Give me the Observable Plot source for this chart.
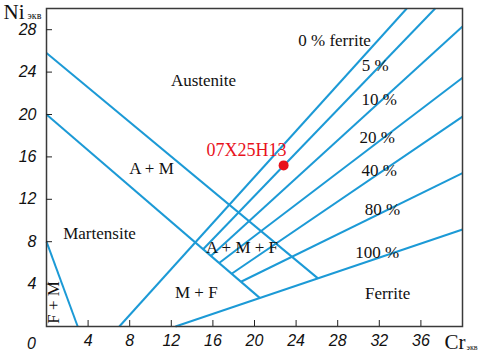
<!DOCTYPE html>
<html><head><meta charset="utf-8">
<script src="https://cdn.jsdelivr.net/npm/d3@7"></script>
<script src="https://cdn.jsdelivr.net/npm/@observablehq/plot@0.6"></script>
<style>body{margin:0;background:#fff}</style>
</head><body><div id="chart"></div>
<script>
// Schaeffler diagram boundary / iso-ferrite lines (Cr_eq, Ni_eq end points)
const lineNames = ["F+M", "M / A+M", "A+M / A", "0 %", "5 %", "10 %", "20 %", "40 %", "80 %", "100 %"];
const lineCr1 = [0, 0, 0, 7, 15.06, 15.8, 16.6, 17.8, 18.7, 12.4];
const lineNi1 = [8, 20, 25.8, 0, 7.29, 6.66, 5.99, 4.98, 4.22, 0];
const lineCr2 = [3, 20.5, 26.1, 34.64, 37.37, 40, 40, 40, 40, 40];
const lineNi2 = [0, 2.7, 4.54, 30, 30, 28.3, 23.46, 19.8, 14.46, 9.15];

// region / iso-line labels
const labelText = ["Austenite", "A + M", "Martensite", "A + M + F", "M + F", "Ferrite",
  "0 % ferrite", "5 %", "10 %", "20 %", "40 %", "80 %", "100 %"];
const labelCr = [15.1, 10.1, 5.1, 18.8, 14.4, 32.8, 27.7, 31.6, 32.0, 31.8, 32.0, 32.3, 31.8];
const labelNi = [23.2, 14.9, 8.77, 7.45, 3.2, 3.1, 27.0, 24.6, 21.4, 17.8, 14.7, 11.0, 7.0];

// steel grade point
const steelName = ["07X25H13"];
const steelCr = [22.8];
const steelNi = [15.2];

const xTicks = [4, 8, 12, 16, 20, 24, 28, 32, 36];
const yTicks = [4, 8, 12, 16, 20, 24, 28];

const blue = "#1c9ad6";
const red = "#e8121c";
const tickFont = "'Liberation Sans', Arial, sans-serif";
const serif = "'Liberation Serif', 'Times New Roman', serif";

const lines = lineNames.map((n, i) => ({n, x1: lineCr1[i], y1: lineNi1[i], x2: lineCr2[i], y2: lineNi2[i]}));
const labels = labelText.map((t, i) => ({t, x: labelCr[i], y: labelNi[i]}));
const steel = steelName.map((n, i) => ({n, x: steelCr[i], y: steelNi[i]}));

const chart = Plot.plot({
  width: 479, height: 354,
  marginLeft: 46, marginRight: 17, marginTop: 8, marginBottom: 28,
  x: {domain: [0, 40]},
  y: {domain: [0, 30]},
  style: {fontFamily: serif, background: "#fff", color: "#111"},
  marks: [
    Plot.link(lines, {x1: "x1", y1: "y1", x2: "x2", y2: "y2", stroke: blue, strokeWidth: 2}),
    Plot.frame({stroke: "#3a3a3a", strokeWidth: 1.5}),
    Plot.axisX(xTicks, {tickSize: -6, tickPadding: 14, fontStyle: "italic", fontFamily: tickFont, fontSize: 16, label: null, stroke: "#222"}),
    Plot.axisY(yTicks, {tickSize: -6, tickPadding: 16, fontStyle: "italic", fontFamily: tickFont, fontSize: 16, label: null, stroke: "#222"}),
    Plot.text(["0"], {frameAnchor: "bottom-left", textAnchor: "middle", lineAnchor: "middle", dx: -15, dy: 17, fontStyle: "italic", fontFamily: tickFont, fontSize: 16, fill: "#111"}),
    Plot.text(labels, {x: "x", y: "y", text: "t", fontSize: 17, fill: "#111"}),
    Plot.text(["F + M"], {frameAnchor: "bottom-left", textAnchor: "middle", lineAnchor: "middle", dx: 7, dy: -24, rotate: -90, fontSize: 17, fill: "#111"}),
    Plot.dot(steel, {x: "x", y: "y", r: 5, fill: red}),
    Plot.text(steel, {x: "x", y: "y", text: "n", textAnchor: "end", dx: 3, dy: -15, fontSize: 18, fill: red}),
    Plot.text(["Ni"], {frameAnchor: "top-left", textAnchor: "start", lineAnchor: "middle", dx: -43, dy: 4, fontSize: 21, fill: "#111"}),
    Plot.text(["экв"], {frameAnchor: "top-left", textAnchor: "start", lineAnchor: "middle", dx: -19, dy: 7, fontSize: 10, fill: "#111"}),
    Plot.text(["Cr"], {frameAnchor: "bottom-right", textAnchor: "start", lineAnchor: "middle", dx: -18, dy: 16, fontSize: 21, fill: "#111"}),
    Plot.text(["экв"], {frameAnchor: "bottom-right", textAnchor: "start", lineAnchor: "middle", dx: 4, dy: 21, fontSize: 8, fill: "#111"})
  ]
});
document.getElementById("chart").append(chart);
</script>
</body></html>
